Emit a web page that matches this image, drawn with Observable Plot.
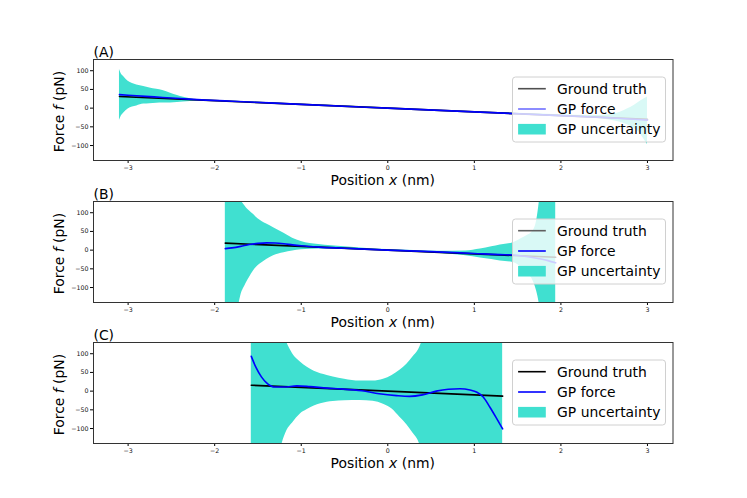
<!DOCTYPE html>
<html><head><meta charset="utf-8">
<script src="https://cdn.jsdelivr.net/npm/d3@7"></script>
<script src="https://cdn.jsdelivr.net/npm/@observablehq/plot@0.6"></script>
<style>
body{margin:0;background:#fff;}
#fig{position:relative;width:747px;height:498px;background:#fff;font-family:"DejaVu Sans",sans-serif;overflow:hidden;}
#fig svg{position:absolute;left:0;overflow:visible;}
</style>
</head><body><div id="fig"></div>
<script>
// ---- tick labels / text ----
const xTicks = [-3, -2, -1, 0, 1, 2, 3];
const yTicks = [-100, -50, 0, 50, 100];
const panelTitles = ["(A)", "(B)", "(C)"];
const legendLabels = ["Ground truth", "GP force", "GP uncertainty"];

// ---- Panel A ----
const aBandX  = [-3.1, -3.08, -3.05, -3.0, -2.95, -2.9, -2.82, -2.75, -2.67, -2.6, -2.51, -2.43, -2.36, -2.28, -2.2, -2.1, -2.0, -1.5, -1.0, 0, 1.0, 1.5, 2.0, 2.3, 2.5, 2.65, 2.76, 2.85, 2.9, 2.95, 3.0];
const aBandHi = [103, 92, 84, 72, 66, 62, 58, 54, 50.5, 47, 40, 34, 29, 25, 22, 21, 20.5, 15.5, 10.5, 0.5, -9.5, -14, -18, -20, -19, -14, -3, 8, 16, 23, 30];
const aBandLo = [-33, -22, -13, -2, 3, 6, 11, 12, 13, 13.5, 14, 15, 16.5, 18, 19, 19.5, 19.5, 14.5, 9.5, -0.5, -10.5, -16, -22, -26, -30, -36, -44, -55, -64, -80, -97];
const aTruthX = [-3.1, -2, -1, 0, 1, 2, 3];
const aTruthF = [31, 20, 10, 0, -10, -20, -30];
const aGpX = [-3.1, -2.9, -2.7, -2.5, -2.3, -2.1, -1.8, -1, 0, 1, 2, 2.5, 2.8, 3.0];
const aGpF = [36, 33, 30, 27, 24, 21.5, 18.5, 10, 0, -10, -20, -25, -29, -32];

// ---- Panel B ----
const bBandX  = [-1.877, -1.85, -1.8, -1.75, -1.7, -1.65, -1.6, -1.55, -1.5, -1.45, -1.4, -1.32, -1.2, -1.1, -1.0, -0.8, -0.5, -0.2, 0, 0.3, 0.6, 0.9, 1.07, 1.2, 1.3, 1.45, 1.55, 1.6, 1.68, 1.72, 1.76, 1.8, 1.87, 1.94];
const bBandHi = [2000, 700, 330, 210, 140, 118, 105, 95, 84, 76, 70, 60, 45, 32, 23, 15, 9, 4, 2, -1, -3, -2, 3, 9, 14, 20, 32, 38, 52, 79, 150, 260, 600, 2000];
const bBandLo = [-2000, -600, -300, -190, -123, -95, -74, -55, -42, -33, -25, -15, -7, -2, 1, 3, 2, 0, -2, -5, -9, -15, -21, -25, -29, -33, -48, -60, -83, -110, -160, -260, -600, -2000];
const bTruthX = [-1.877, -1, 0, 1, 1.94];
const bTruthF = [18.8, 10, 0, -10, -19];
const bGpX = [-1.877, -1.8, -1.7, -1.6, -1.5, -1.4, -1.3, -1.2, -1.1, -1.0, -0.8, -0.5, 0, 0.5, 1.0, 1.3, 1.45, 1.6, 1.75, 1.85, 1.94];
const bGpF = [4, 6, 10, 15, 18, 19.5, 19, 17, 14, 11.5, 8, 5, 0, -4, -9, -12, -13, -17, -23, -28, -34];

// ---- Panel C ----
const cBandX  = [-1.577, -1.5, -1.4, -1.3, -1.22, -1.165, -1.1, -1.01, -0.935, -0.85, -0.7, -0.63, -0.5, -0.32, -0.17, -0.05, 0.05, 0.14, 0.22, 0.29, 0.365, 0.39, 0.5, 0.7, 1.0, 1.327];
const cBandHi = [2000, 800, 400, 240, 165, 129, 100, 78, 64.5, 53, 42, 38, 32, 27, 27, 32, 42, 56, 72, 91, 115, 130, 300, 700, 1500, 2000];
const cBandLo = [-2000, -800, -400, -230, -140, -105, -85, -61, -50, -40, -30, -28, -26, -25, -27, -35, -48, -70, -90, -112, -140, -160, -300, -700, -1500, -2000];
const cTruthX = [-1.577, -1, 0, 1, 1.327];
const cTruthF = [15.8, 10, 0, -10, -13.3];
const cGpX = [-1.577, -1.52, -1.46, -1.4, -1.36, -1.32, -1.2, -1.05, -0.9, -0.7, -0.55, -0.3, -0.1, 0.1, 0.25, 0.4, 0.56, 0.7, 0.834, 0.95, 1.03, 1.1, 1.18, 1.25, 1.327];
const cGpF = [93, 62, 38, 22, 15, 11, 11, 14, 12, 8, 6, 1, -7, -12, -14, -10, 0, 5, 6.4, 3, -3, -15, -43, -70, -101];

// ---- layout ----
const frameTops = [59.3, 200.7, 342.3];
const innerH = 101, mTop = 25, mBottom = 30, mLeft = 93, mRight = 74.5, W = 747;
const handleColors = [["#505050", "#7070ff"], ["#606060", "#0000ff"], ["#000000", "#0000ff"]];

const zip = (xs, ys, k) => xs.map((x, i) => ({x, [k]: ys[i]}));
const panels = [
  {bx: aBandX, hi: aBandHi, lo: aBandLo, tx: aTruthX, tf: aTruthF, gx: aGpX, gf: aGpF},
  {bx: bBandX, hi: bBandHi, lo: bBandLo, tx: bTruthX, tf: bTruthF, gx: bGpX, gf: bGpF},
  {bx: cBandX, hi: cBandHi, lo: cBandLo, tx: cTruthX, tf: cTruthF, gx: cGpX, gf: cGpF}
];
const fmt = d3.format("d");
const fig = document.getElementById("fig");

panels.forEach((p, i) => {
  const band = p.bx.map((x, j) => ({x, lo: p.lo[j], hi: p.hi[j]}));
  const truth = zip(p.tx, p.tf, "f");
  const gp = zip(p.gx, p.gf, "f");
  const svg = Plot.plot({
    width: W, height: mTop + innerH + mBottom,
    marginTop: mTop, marginBottom: mBottom, marginLeft: mLeft, marginRight: mRight,
    x: {domain: [-3.4, 3.295]},
    y: {domain: [-140, 130]},
    style: {background: "transparent", fontFamily: "DejaVu Sans", overflow: "visible", color: "#000"},
    marks: [
      Plot.areaY(band, {x: "x", y1: "lo", y2: "hi", fill: "#40e0d0", curve: "monotone-x", clip: true}),
      Plot.line(truth, {x: "x", y: "f", stroke: "black", strokeWidth: 1.6, clip: true}),
      Plot.line(gp, {x: "x", y: "f", stroke: "blue", strokeWidth: 1.6, curve: "monotone-x", clip: true}),
      Plot.axisX({ticks: xTicks, tickSize: 3, tickPadding: 2, fontSize: 6.3, tickFormat: fmt, label: null, fill: "#111"}),
      Plot.axisY({ticks: yTicks, tickSize: 3, tickPadding: 2, fontSize: 6.3, tickFormat: fmt, label: null, fill: "#111"}),
      Plot.frame({stroke: "#333", strokeWidth: 1})
    ]
  });
  svg.style.top = (frameTops[i] - mTop) + "px";
  fig.appendChild(svg);

  const s = d3.select(svg);
  const fx0 = mLeft, fx1 = W - mRight, fy0 = mTop, fy1 = mTop + innerH;
  const fcx = (fx0 + fx1) / 2, fcy = (fy0 + fy1) / 2;

  // title
  s.append("text").attr("x", fx0 + 0.5).attr("y", fy0 - 2.5).attr("text-anchor", "start")
    .attr("font-size", "13.9px").attr("fill", "#000").text(panelTitles[i]);
  // x label
  const xl = s.append("text").attr("x", fcx).attr("y", fy1 + 25)
    .attr("text-anchor", "middle").attr("font-size", "13.9px").attr("fill", "#000");
  xl.append("tspan").text("Position ");
  xl.append("tspan").attr("font-style", "italic").text("x");
  xl.append("tspan").text(" (nm)");
  // y label
  const yl = s.append("text").attr("transform", `translate(${63.5},${fcy + 2}) rotate(-90)`)
    .attr("text-anchor", "middle").attr("font-size", "13.9px").attr("fill", "#000");
  yl.append("tspan").text("Force ");
  yl.append("tspan").attr("font-style", "italic").text("f");
  yl.append("tspan").text(" (pN)");

  // legend
  const lw = 153, lh = 65;
  const lx = fx1 - 7 - lw, ly = fcy - lh / 2;
  const g = s.append("g").attr("text-anchor", "start");
  g.append("rect").attr("x", lx).attr("y", ly).attr("width", lw).attr("height", lh)
    .attr("rx", 3).attr("fill", "white").attr("fill-opacity", 0.8)
    .attr("stroke", "#d0d0d0").attr("stroke-width", 1);
  const rows = [11.7, 32, 52.2];
  g.append("line").attr("x1", lx + 5.6).attr("x2", lx + 33.3).attr("y1", ly + rows[0]).attr("y2", ly + rows[0])
    .attr("stroke", handleColors[i][0]).attr("stroke-width", 1.6);
  g.append("line").attr("x1", lx + 5.6).attr("x2", lx + 33.3).attr("y1", ly + rows[1]).attr("y2", ly + rows[1])
    .attr("stroke", handleColors[i][1]).attr("stroke-width", 1.6);
  g.append("rect").attr("x", lx + 5.6).attr("y", ly + rows[2] - 5.3).attr("width", 27.7).attr("height", 10.6)
    .attr("fill", "#40e0d0");
  legendLabels.forEach((t, k) => {
    g.append("text").attr("x", lx + 44.6).attr("y", ly + rows[k] + 5).attr("text-anchor", "start")
      .attr("font-size", "13.9px").attr("fill", "#000").text(t);
  });
});
</script>
</body></html>
